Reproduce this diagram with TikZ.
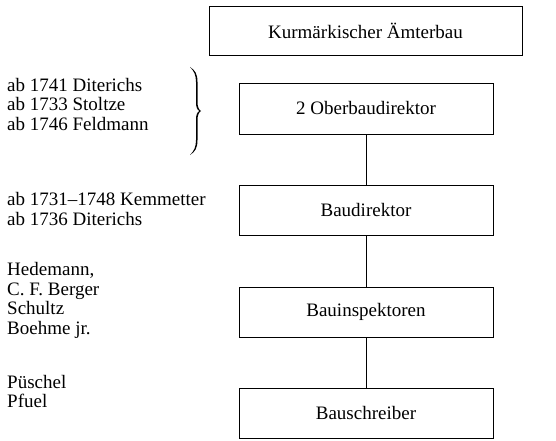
\documentclass[tikz,border=0pt]{standalone}
\usepackage{fontspec}
\setmainfont{Liberation Serif}
\begin{document}
\begin{tikzpicture}[x=1pt,y=-1pt,
  box/.style={draw, line width=0.8pt, inner sep=0pt, font=\fontsize{19}{19.7}\selectfont},
  lbl/.style={anchor=west, align=left, inner sep=0pt, font=\fontsize{19}{19.7}\selectfont},
  conn/.style={line width=0.8pt}]
\useasboundingbox (0,0) rectangle (556,441);
\node[box, minimum width=313pt, minimum height=49pt] (top) at (365.5,30.5) {Kurmärkischer Ämterbau};
\node[box, minimum width=254pt, minimum height=51pt] (ob) at (366,108.5) {2 Oberbaudirektor};
\node[box, minimum width=254pt, minimum height=50pt] (bd) at (366,210) {Baudirektor};
\node[box, minimum width=254pt, minimum height=50pt] (bi) at (366,312) {Bauinspektoren};
\node[box, minimum width=254pt, minimum height=50pt] (bs) at (366,413) {Bauschreiber};
\draw[conn] (ob) -- (bd);
\draw[conn] (bd) -- (bi);
\draw[conn] (bi) -- (bs);
\node[lbl] (l1) at (7,104.5) {ab 1741 Diterichs\\ab 1733 Stoltze\\ab 1746 Feldmann};
% brace
\coordinate (bt) at (190,67);
\coordinate (bb) at (190,155);
\coordinate (bm) at (201,111);
\fill (bt) .. controls (195,70) and (197.5,74) .. (197.5,82)
  -- (197.5,102) .. controls (197.5,107) and (199,110) .. (bm)
  .. controls (199,112) and (197.5,115) .. (197.5,120)
  -- (197.5,140) .. controls (197.5,148) and (195,152) .. (bb)
  .. controls (194,151) and (196,147) .. (196,140)
  -- (196,120) .. controls (196,115) and (197,112) .. (199.5,111)
  .. controls (197,110) and (196,107) .. (196,102)
  -- (196,82) .. controls (196,75) and (194,71) .. (bt) -- cycle;
\node[lbl] (l2) at (7,209) {ab 1731--1748 Kemmetter\\ab 1736 Diterichs};
\node[lbl] (l3) at (7,300.5) {Hedemann,\\C. F. Berger\\Schultz\\Boehme jr.};
\node[lbl] (l4) at (7,391.5) {Püschel\\Pfuel};
\end{tikzpicture}
\end{document}
